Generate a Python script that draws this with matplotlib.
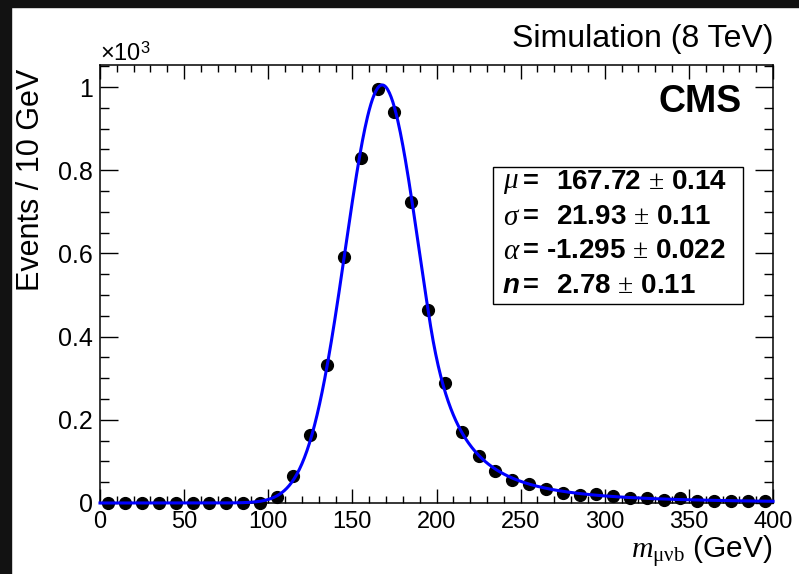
import numpy as np
import matplotlib.pyplot as plt
from matplotlib.ticker import MultipleLocator
from matplotlib.patches import Rectangle

plt.rcParams['font.family'] = 'Liberation Sans'
plt.rcParams['mathtext.fontset'] = 'custom'
plt.rcParams['mathtext.rm'] = 'Liberation Serif'
plt.rcParams['mathtext.it'] = 'Liberation Serif:italic'
plt.rcParams['mathtext.bf'] = 'Liberation Sans:bold'
plt.rcParams['mathtext.sf'] = 'Liberation Sans'

# simulated events per 10 GeV bin (bin centres 5 ... 395 GeV)
bin_centers = np.arange(5, 400, 10)
events = [0, 0, 0, 0, 0, 0, 0, 0, 0, 0,
          14, 64, 164, 332, 591, 829, 995, 940, 724, 464,
          288, 171, 112, 76, 56, 46, 34, 25, 20, 22,
          16, 13, 12, 8, 12, 5, 5, 5, 4, 4]

# Crystal Ball fit result shown in the box
mu, mu_err = 167.72, 0.14
sigma, sigma_err = 21.93, 0.11
alpha, alpha_err = -1.295, 0.022
n_cb, n_err = 2.78, 0.11
norm = 1005  # peak height


def crystal_ball(x):
    t = (x - mu) / sigma
    if alpha < 0:
        t = -t
    a_abs = abs(alpha)
    A = (n_cb / a_abs) ** n_cb * np.exp(-0.5 * a_abs ** 2)
    B = n_cb / a_abs - a_abs
    core = np.exp(-0.5 * t ** 2)
    tail = A / np.abs(B - t) ** n_cb
    return np.where(t >= -a_abs, core, tail)


W, H = 799, 574
fig = plt.figure(figsize=(W / 100, H / 100), dpi=100)


def fx(px):
    return px / W


def fy(py):
    return 1 - py / H


# dark frame bits at top / left edge of the screenshot
fig.patches.append(Rectangle((0, fy(7)), 1, 7 / H, transform=fig.transFigure,
                             color='#121212', zorder=0))
fig.patches.append(Rectangle((0, 0), 11 / W, 1, transform=fig.transFigure,
                             color='#121212', zorder=0))

ax = fig.add_axes([fx(100), fy(503), fx(773) - fx(100), fy(65) - fy(503)])

xs = np.linspace(0, 400, 801)
ax.plot(bin_centers, np.array(events) / 1000, 'o', color='black', ms=8.5,
        clip_on=False, zorder=3)
ax.plot(xs, norm * crystal_ball(xs) / 1000, color='#0000ff', lw=2.2, zorder=4,
        clip_on=False)

ax.set_xlim(0, 400)
ax.set_ylim(0, 1.053)
ax.xaxis.set_minor_locator(MultipleLocator(10))
ax.yaxis.set_minor_locator(MultipleLocator(0.05))
ax.set_xticks([0, 50, 100, 150, 200, 250, 300, 350, 400])
ax.set_xticklabels(['0', '50', '100', '150', '200', '250', '300', '350', '400'])
ax.set_yticks([0, 0.2, 0.4, 0.6, 0.8, 1.0])
ax.set_yticklabels(['0', '0.2', '0.4', '0.6', '0.8', '1'])
ax.tick_params(which='both', direction='in', top=True, right=True, width=1)
ax.tick_params(axis='x', which='major', length=10, pad=6, labelsize=17)
ax.tick_params(axis='x', which='minor', length=5)
ax.tick_params(axis='y', which='major', length=13, pad=5, labelsize=18)
ax.tick_params(axis='y', which='minor', length=6.5)
for s in ax.spines.values():
    s.set_linewidth(1.1)

# axis titles
fig.text(fx(31), fy(69), 'Events / 10 GeV', rotation=90, ha='center', va='top',
         fontsize=22)
fig.text(fx(773), fy(559), r'$m_{\mathrm{\mu\nu b}}$ (GeV)', ha='right',
         va='baseline', fontsize=21.5)
fig.text(fx(100), fy(61), r'×10$^{\mathsf{3}}$', ha='left', va='baseline',
         fontsize=17)

fig.text(fx(773), fy(47), 'Simulation (8 TeV)', ha='right', va='baseline',
         fontsize=23)
fig.text(fx(742), fy(112), 'CMS', ha='right', va='baseline', fontsize=27,
         fontweight='bold')

# fit parameter box
fig.patches.append(Rectangle((fx(493), fy(304)), (743 - 493) / W, (304 - 167) / H,
                             transform=fig.transFigure, fill=False,
                             edgecolor='black', lw=1, zorder=5))
rows = [
    (r'$\mu$', f'{mu:.2f}', f'{mu_err:.2f}', 182),
    (r'$\sigma$', f'{sigma:.2f}', f'{sigma_err:.2f}', 217),
    (r'$\alpha$', f'{alpha:.3f}', f'{alpha_err:.3f}', 251),
    ('n', f'{n_cb:.2f}', f'{n_err:.2f}', 286),
]
for sym, val, err, ypx in rows:
    if sym == 'n':
        fig.text(fx(503), fy(ypx), sym, ha='left', va='center', fontsize=20,
                 fontweight='bold', fontstyle='italic')
    else:
        fig.text(fx(503), fy(ypx), sym, ha='left', va='center', fontsize=21)
    fig.text(fx(523), fy(ypx), '=', ha='left', va='center', fontsize=19.5,
             fontweight='bold')
    vx = 546 if val.startswith('-') else 556
    fig.text(fx(vx), fy(ypx), val + r' $\pm$ ' + err, ha='left',
             va='center', fontsize=20, fontweight='bold')

fig.savefig('out.png', dpi=100)
